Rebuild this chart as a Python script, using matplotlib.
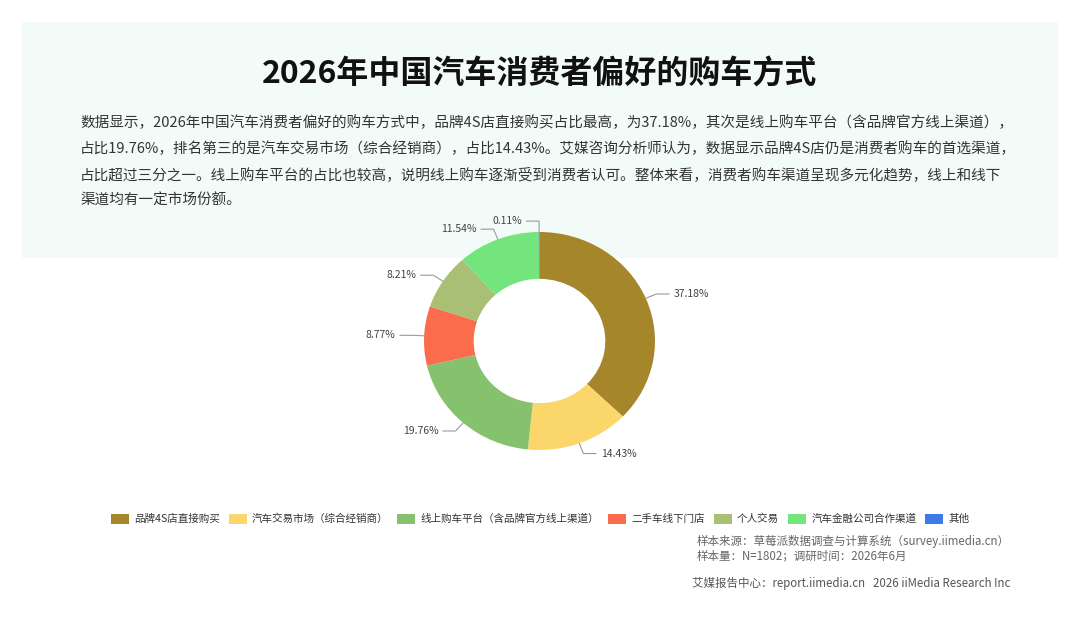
import numpy as np
import matplotlib
matplotlib.use("Agg")
import matplotlib.pyplot as plt
from matplotlib.patches import Rectangle

plt.rcParams['font.family'] = ['Noto Sans CJK SC', 'DejaVu Sans']

# data
channels = ['品牌4S店直接购买', '汽车交易市场（综合经销商）', '线上购车平台（含品牌官方线上渠道）',
            '二手车线下门店', '个人交易', '汽车金融公司合作渠道', '其他']
shares = [37.18, 14.43, 19.76, 8.77, 8.21, 11.54, 0.11]
colors = ['#A5862B', '#FBD76B', '#86C16D', '#FA6C4C', '#A9BF74', '#74E57D', '#3D7BE8']

title = '2026年中国汽车消费者偏好的购车方式'
paragraph = [
    '数据显示，2026年中国汽车消费者偏好的购车方式中，品牌4S店直接购买占比最高，为37.18%，其次是线上购车平台（含品牌官方线上渠道），',
    '占比19.76%，排名第三的是汽车交易市场（综合经销商），占比14.43%。艾媒咨询分析师认为，数据显示品牌4S店仍是消费者购车的首选渠道，',
    '占比超过三分之一。线上购车平台的占比也较高，说明线上购车逐渐受到消费者认可。整体来看，消费者购车渠道呈现多元化趋势，线上和线下',
    '渠道均有一定市场份额。',
]
source_lines = ['样本来源：草莓派数据调查与计算系统（survey.iimedia.cn）',
                '样本量：N=1802；调研时间：2026年6月']
footer = '艾媒报告中心：report.iimedia.cn   2026 iiMedia Research Inc'

W, H = 1080, 623
fig = plt.figure(figsize=(W / 100, H / 100), dpi=100)
fig.patch.set_facecolor('white')

# pale header panel (kept under the donut)
fig.patches.append(Rectangle((22 / W, 1 - 258 / H), 1036 / W, 236 / H,
                             transform=fig.transFigure, facecolor='#F3FBF9',
                             edgecolor='none', zorder=-5))

fig.text(0.5, 1 - 75 / H, title, ha='center', va='center', fontsize=23,
         fontweight='bold', color='#111111')
for i, line in enumerate(paragraph):
    fig.text(80 / W, 1 - (123 + 26 * i) / H, line, ha='left', va='center',
             fontsize=10.5, color='#333333')

# donut axes: 1 data unit = 115.5 px wide, 109 px tall
cx, cy = 539.5, 341
ax = fig.add_axes([(cx - 231) / W, (H - cy - 163.5) / H, 462 / W, 327 / H])
ax.set_zorder(2)
ax.patch.set_alpha(0)
wedges, _ = ax.pie(shares, colors=colors, startangle=90, counterclock=False,
                   radius=1.0, wedgeprops=dict(width=0.43, linewidth=0))
ax.set_aspect('auto')
ax.set_xlim(-2, 2)
ax.set_ylim(-1.5, 1.5)
ax.axis('off')

for w, s in zip(wedges, shares):
    mid = np.deg2rad((w.theta1 + w.theta2) / 2)
    c, sn = np.cos(mid), np.sin(mid)
    side = 1 if c >= 0 else -1
    ex, ey = 1.1 * c, 1.1 * sn
    endx = ex + side * 0.11
    ax.plot([c, ex, endx], [sn, ey, ey], color='#9A9A9A', lw=0.8,
            solid_capstyle='round')
    ax.text(endx + side * 0.04, ey, f'{s:.2f}%', ha='left' if side > 0 else 'right',
            va='center', fontsize=7.5, color='#444444')

fig.legend(wedges, channels, loc='center', bbox_to_anchor=(0.5, 1 - 519 / H),
           ncol=7, frameon=False, fontsize=7.6, handlelength=1.7, handleheight=1.1,
           handletextpad=0.5, columnspacing=0.85, labelcolor='#333333')

for i, line in enumerate(source_lines):
    fig.text(697 / W, 1 - (541 + 15 * i) / H, line, ha='left', va='center',
             fontsize=8.3, color='#666666')
fig.text(692 / W, 1 - 583 / H, footer, ha='left', va='center', fontsize=8.3,
         color='#555555')

fig.savefig('out.png', dpi=100)
